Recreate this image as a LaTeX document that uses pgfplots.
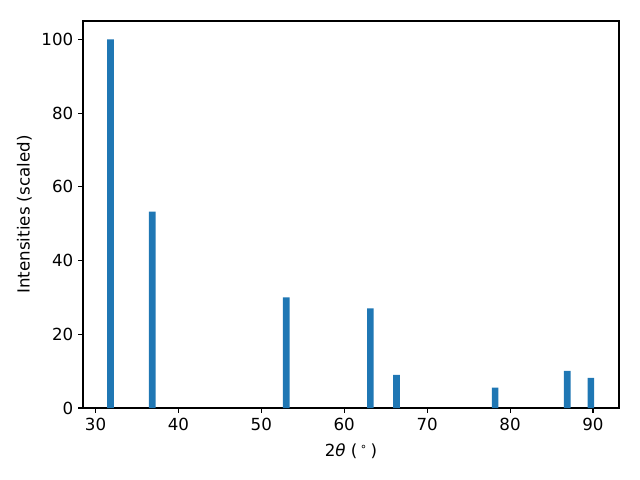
\documentclass[border=0pt]{standalone}
\usepackage{fontspec}
\setmainfont{DejaVu Sans}
\usepackage{pgfplots}
\pgfplotsset{compat=1.18}
\definecolor{mplblue}{HTML}{1F77B4}
\begin{document}
\begin{tikzpicture}
\useasboundingbox (-59.76pt,-51.84pt) rectangle (401.04pt,293.76pt);
\begin{axis}[
    at={(0,0)}, anchor=south west,
    scale only axis,
    width=385.92pt, height=278.64pt,
    xmin=28.49, xmax=93.14,
    ymin=0, ymax=105,
    xtick={30,40,...,90},
    ytick={0,20,...,100},
    tick align=outside,
    major tick length=3.5pt,
    every tick/.style={black, line width=0.8pt},
    axis line style={line width=0.8pt},
    tick label style={font=\fontsize{12}{14}\selectfont},
    label style={font=\fontsize{12}{14}\selectfont},
    xlabel style={yshift=-3pt},
    /pgf/number format/assume math mode=true,
    xtick pos=bottom, ytick pos=left,
    xlabel={2\textit{θ} (\,\textsuperscript{∘}\,)},
    ylabel={Intensities (scaled)},
    ybar, bar width=0.8,
]
\addplot[fill=mplblue, draw=none] coordinates {
(31.8,100) (36.85,53.3) (53.0,30.0) (63.15,27.0) (66.3,9.0) (78.2,5.5) (86.9,10.1) (89.75,8.2)
};
\end{axis}
\end{tikzpicture}
\end{document}
